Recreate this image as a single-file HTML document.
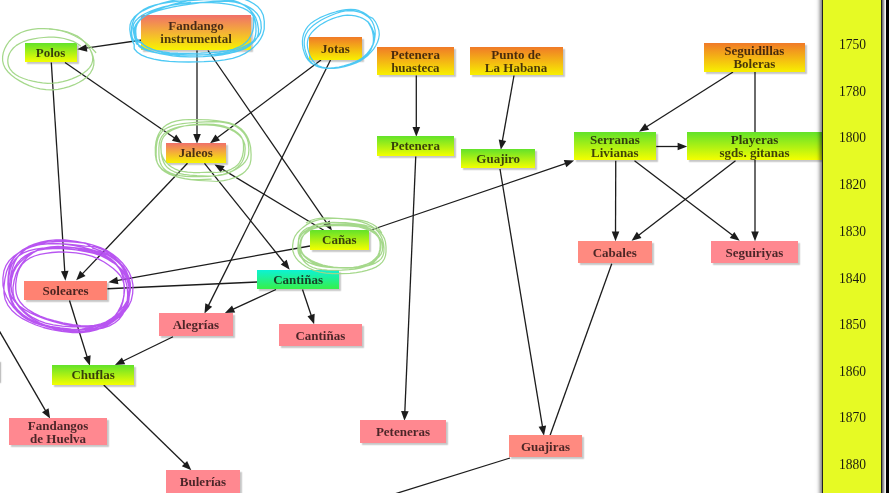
<!DOCTYPE html>
<html><head><meta charset="utf-8"><title>Flamenco genealogy</title>
<style>
html,body{margin:0;padding:0;background:#fff;}
body{width:889px;height:493px;overflow:hidden;position:relative;font-family:"Liberation Serif",serif;}
#stage{position:absolute;left:0;top:0;width:889px;height:493px;overflow:hidden;background:#fff;filter:blur(0.35px);}
svg{position:absolute;left:0;top:0;}
.n{position:absolute;box-sizing:border-box;display:flex;flex-direction:column;justify-content:center;align-items:center;
 font-weight:bold;font-size:13px;line-height:13.3px;color:rgba(18,6,8,0.76);text-align:center;white-space:nowrap;
 box-shadow:1.5px 2px 1.2px rgba(0,0,0,0.22);}
.n span{display:block;}
#bar{position:absolute;left:822px;top:-5px;width:58px;height:503px;background:#e6fa24;border-left:1.5px solid #222;border-right:1.5px solid #222;
 box-shadow:-2px 0 4px rgba(0,0,0,0.55), 1.5px 0 2px rgba(0,0,0,0.55);}
#blk{position:absolute;left:886px;top:0;width:4px;height:493px;background:#000;}
.y{position:absolute;left:823px;width:59px;text-align:center;font-size:13.5px;line-height:14px;color:#1a1a10;font-weight:normal;transform:scaleY(1.1);transform-origin:50% 55%;}
</style></head><body><div id="stage">
<svg width="889" height="493" viewBox="0 0 889 493"><g stroke="#1c1c1c" stroke-width="1.3" fill="#1c1c1c" stroke-linecap="butt"><line x1="142.00" y1="40.00" x2="85.82" y2="48.14"/><polygon stroke="none" points="77.31,49.37 86.27,44.23 87.36,51.76"/><line x1="51.30" y1="62.50" x2="64.82" y2="272.12"/><polygon stroke="none" points="65.38,280.70 60.97,271.36 68.55,270.87"/><line x1="65.00" y1="62.50" x2="174.91" y2="138.30"/><polygon stroke="none" points="181.99,143.18 171.93,140.86 176.24,134.60"/><line x1="197.00" y1="50.50" x2="197.00" y2="135.10"/><polygon stroke="none" points="197.00,143.70 193.20,134.10 200.80,134.10"/><line x1="321.00" y1="60.00" x2="216.92" y2="138.06"/><polygon stroke="none" points="210.04,143.22 215.44,134.42 220.00,140.50"/><line x1="208.00" y1="50.50" x2="327.00" y2="223.40"/><polygon stroke="none" points="331.88,230.49 323.31,224.73 329.57,220.43"/><line x1="330.50" y1="60.00" x2="208.29" y2="305.87"/><polygon stroke="none" points="204.47,313.57 205.34,303.29 212.14,306.67"/><line x1="323.75" y1="230.30" x2="221.84" y2="168.82"/><polygon stroke="none" points="214.47,164.38 224.66,166.09 220.73,172.59"/><line x1="204.50" y1="163.30" x2="284.37" y2="262.98"/><polygon stroke="none" points="289.75,269.69 280.78,264.57 286.71,259.82"/><line x1="187.50" y1="163.30" x2="82.10" y2="274.14"/><polygon stroke="none" points="76.17,280.37 80.03,270.79 85.54,276.03"/><line x1="310.00" y1="246.00" x2="116.78" y2="280.69"/><polygon stroke="none" points="108.32,282.21 117.10,276.78 118.44,284.26"/><line x1="257.50" y1="282.00" x2="107.50" y2="288.75"/><line x1="276.00" y1="289.50" x2="232.72" y2="309.41"/><polygon stroke="none" points="224.91,313.00 232.04,305.54 235.22,312.44"/><line x1="302.50" y1="289.50" x2="311.39" y2="315.98"/><polygon stroke="none" points="314.13,324.14 307.47,316.25 314.68,313.83"/><line x1="369.50" y1="230.50" x2="566.00" y2="163.39"/><polygon stroke="none" points="574.14,160.61 566.28,167.31 563.82,160.12"/><line x1="416.30" y1="75.50" x2="416.30" y2="128.10"/><polygon stroke="none" points="416.30,136.70 412.50,127.10 420.10,127.10"/><line x1="415.75" y1="156.50" x2="404.82" y2="412.11"/><polygon stroke="none" points="404.45,420.70 401.06,410.95 408.66,411.27"/><line x1="514.00" y1="75.50" x2="502.30" y2="141.21"/><polygon stroke="none" points="500.79,149.68 498.73,139.56 506.21,140.90"/><line x1="500.00" y1="169.00" x2="542.55" y2="427.20"/><polygon stroke="none" points="543.95,435.68 538.63,426.83 546.13,425.59"/><line x1="733.00" y1="72.00" x2="646.25" y2="127.04"/><polygon stroke="none" points="638.99,131.64 645.06,123.29 649.13,129.71"/><line x1="755.00" y1="72.00" x2="755.00" y2="232.60"/><polygon stroke="none" points="755.00,241.20 751.20,231.60 758.80,231.60"/><line x1="656.25" y1="146.50" x2="678.60" y2="146.50"/><polygon stroke="none" points="687.20,146.50 677.60,150.30 677.60,142.70"/><line x1="615.75" y1="160.75" x2="615.52" y2="232.60"/><polygon stroke="none" points="615.50,241.20 611.73,231.59 619.33,231.61"/><line x1="634.50" y1="160.75" x2="732.86" y2="235.52"/><polygon stroke="none" points="739.71,240.73 729.76,237.94 734.36,231.89"/><line x1="735.50" y1="160.75" x2="638.36" y2="235.49"/><polygon stroke="none" points="631.55,240.73 636.84,231.87 641.47,237.89"/><line x1="611.75" y1="263.75" x2="550.00" y2="435.50"/><line x1="510.00" y1="458.00" x2="380.00" y2="498.50"/><line x1="69.50" y1="300.50" x2="87.29" y2="357.44"/><polygon stroke="none" points="89.86,365.65 83.37,357.62 90.62,355.35"/><line x1="173.00" y1="336.75" x2="122.65" y2="361.26"/><polygon stroke="none" points="114.92,365.03 121.89,357.41 125.22,364.24"/><line x1="103.75" y1="385.00" x2="185.20" y2="464.34"/><polygon stroke="none" points="191.36,470.34 181.83,466.36 187.13,460.92"/><line x1="-5.00" y1="323.50" x2="45.79" y2="411.10"/><polygon stroke="none" points="50.10,418.54 42.00,412.14 48.57,408.33"/></g></svg>
<div style="position:absolute;left:-6px;top:361px;width:6px;height:21px;background:#fff;box-shadow:1px 1px 1.5px rgba(0,0,0,0.3)"></div>
<div class="n" style="left:24.60px;top:42.70px;width:52.00px;height:19.50px;background:linear-gradient(to bottom,#62e22a,#f4ff00)"><span>Polos</span></div>
<div class="n" style="left:141.30px;top:14.80px;width:109.50px;height:35.10px;background:linear-gradient(to bottom,#f0706a,#f8f400)"><span>Fandango</span><span>instrumental</span></div>
<div class="n" style="left:309.10px;top:36.70px;width:52.50px;height:23.00px;background:linear-gradient(to bottom,#f07a28,#f8f000)"><span>Jotas</span></div>
<div class="n" style="left:377.10px;top:46.70px;width:76.50px;height:28.50px;background:linear-gradient(to bottom,#f07a28,#f8f000)"><span>Petenera</span><span>huasteca</span></div>
<div class="n" style="left:469.60px;top:46.70px;width:93.00px;height:28.50px;background:linear-gradient(to bottom,#f07a28,#f8f000)"><span>Punto de</span><span>La Habana</span></div>
<div class="n" style="left:704.10px;top:42.70px;width:100.50px;height:29.00px;background:linear-gradient(to bottom,#f07a28,#f8f000)"><span>Seguidillas</span><span>Boleras</span></div>
<div class="n" style="left:166.10px;top:142.70px;width:59.50px;height:20.30px;background:linear-gradient(to bottom,#f0706a,#f8f400)"><span>Jaleos</span></div>
<div class="n" style="left:377.10px;top:135.70px;width:76.50px;height:20.00px;background:linear-gradient(to bottom,#62e22a,#f4ff00)"><span>Petenera</span></div>
<div class="n" style="left:461.35px;top:148.70px;width:73.75px;height:19.60px;background:linear-gradient(to bottom,#62e22a,#f4ff00)"><span>Guajiro</span></div>
<div class="n" style="left:573.85px;top:131.70px;width:82.00px;height:28.75px;background:linear-gradient(to bottom,#62e22a,#f4ff00)"><span>Serranas</span><span>Livianas</span></div>
<div class="n" style="left:686.60px;top:131.70px;width:136.00px;height:28.75px;background:linear-gradient(to bottom,#62e22a,#f4ff00)"><span>Playeras</span><span>sgds. gitanas</span></div>
<div class="n" style="left:309.60px;top:230.00px;width:59.50px;height:19.70px;background:linear-gradient(to bottom,#62e22a,#f4ff00)"><span>Cañas</span></div>
<div class="n" style="left:257.10px;top:269.70px;width:82.00px;height:19.50px;background:linear-gradient(to bottom,#0cf2d4,#36f04a)"><span>Cantiñas</span></div>
<div class="n" style="left:24.10px;top:280.70px;width:83.00px;height:19.50px;background:#ff8272"><span>Soleares</span></div>
<div class="n" style="left:577.85px;top:240.95px;width:73.75px;height:22.50px;background:#ff8a80"><span>Cabales</span></div>
<div class="n" style="left:710.85px;top:240.95px;width:87.00px;height:22.50px;background:#ff8890"><span>Seguiriyas</span></div>
<div class="n" style="left:159.10px;top:313.45px;width:73.50px;height:23.00px;background:#ff8890"><span>Alegrías</span></div>
<div class="n" style="left:279.10px;top:323.95px;width:82.50px;height:22.50px;background:#ff8890"><span>Cantiñas</span></div>
<div class="n" style="left:52.10px;top:365.20px;width:82.00px;height:19.50px;background:linear-gradient(to bottom,#62e22a,#f4ff00)"><span>Chuflas</span></div>
<div class="n" style="left:9.10px;top:418.45px;width:98.00px;height:26.75px;background:#ff8890"><span>Fandangos</span><span>de Huelva</span></div>
<div class="n" style="left:166.35px;top:470.45px;width:73.25px;height:23.25px;background:#ff8890"><span>Bulerías</span></div>
<div class="n" style="left:360.10px;top:420.10px;width:85.75px;height:23.00px;background:#ff8890"><span>Peteneras</span></div>
<div class="n" style="left:508.85px;top:434.90px;width:73.25px;height:22.60px;background:#ff8a80"><span>Guajiras</span></div>
<div id="bar"></div><div id="blk"></div>
<div class="y" style="top:37.8px">1750</div><div class="y" style="top:84.8px">1780</div><div class="y" style="top:131.3px">1800</div><div class="y" style="top:178.3px">1820</div><div class="y" style="top:224.8px">1830</div><div class="y" style="top:271.8px">1840</div><div class="y" style="top:318.3px">1850</div><div class="y" style="top:364.8px">1860</div><div class="y" style="top:411.3px">1870</div><div class="y" style="top:457.8px">1880</div>
<svg width="889" height="493" viewBox="0 0 889 493" fill="none" stroke-linecap="round" stroke-linejoin="round"><path d="M134.0,41.2 L132.2,37.4 L131.5,32.6 L131.7,26.4 L132.8,22.2 L134.4,18.6 L136.8,15.2 L139.9,12.2 L144.0,9.4 L149.1,6.9 L155.4,4.9 L162.6,3.3 L170.6,2.1 L179.5,1.2 L190.1,0.5 L203.8,-0.4 L213.1,-0.6 L221.1,-0.4 L228.3,0.3 L234.5,1.5 L239.9,3.2 L244.4,5.4 L248.0,8.0 L251.1,10.9 L253.6,14.2 L255.8,17.9 L257.4,22.6 L258.5,29.1 L258.4,33.6 L257.1,37.6 L254.7,41.1 L251.1,44.3 L246.6,47.0 L241.5,49.4 L235.7,51.5 L229.3,53.3 L222.0,54.8 L213.6,55.9 L203.2,56.6 L189.4,56.9 L180.2,56.5 L172.5,55.8 L165.8,54.7 L159.8,53.5 L154.3,52.1 L149.3,50.4 L144.8,48.5 L141.0,46.3 L136.7,43.9 L135.3,40.5 L134.7,36.3 L134.7,30.8 L135.4,27.0 L136.9,23.7 L139.1,20.6 L142.4,17.6 L146.6,15.0 L151.9,12.6 L158.0,10.6 L164.8,8.8 L172.2,7.2 L180.4,5.7 L190.3,4.2 L203.7,2.4 L213.0,1.5 L221.2,1.1 L228.5,1.3 L235.0,2.2 L240.6,3.5 L245.5,5.3 L249.8,7.6 L253.5,10.1 L256.7,13.2 L259.2,16.9 L260.8,21.6 L261.3,28.1 L260.4,32.6 L258.3,36.4 L255.1,39.8 L251.2,42.7 L246.7,45.4 L241.8,47.7 L236.2,49.8 L229.9,51.6 L222.6,53.1 L214.1,54.1 L203.8,54.8 L190.1,55.2 L180.9,55.1 L173.1,54.7 L165.9,54.1 L159.2,53.3 L153.0,52.2 L147.4,50.7 L142.7,48.9 L139.1,46.5 L137.9,43.4 L136.7,40.1 L136.0,36.2 L135.7,30.9 L136.1,27.2 L137.3,23.8 L139.5,20.6 L142.7,17.6 L146.9,14.8 L151.9,12.2 L157.6,9.7 L163.9,7.3 L171.1,4.9 L179.3,2.6 L189.8,0.3 L204.3,-2.1 L214.4,-3.4 L223.2,-3.8 L231.0,-3.5 L237.8,-2.5 L243.8,-1.0 L249.1,1.1 L253.8,3.7 L257.9,6.8 L261.1,10.7 L263.3,15.3 L264.3,21.3 L264.2,29.2 L262.7,34.6 L260.4,39.2 L257.4,43.3 L253.9,46.9 L249.8,50.3 L245.1,53.4 L239.4,56.1 L232.6,58.3 L224.6,59.9 L215.3,61.1 L203.9,61.7 L188.8,62.0 L178.5,61.8 L169.5,61.3 L161.3,60.5 L153.8,59.2 L147.2,57.4 L141.6,55.1 L137.3,52.2 L134.2,48.8 L134.2,44.6 L132.2,40.7 L130.7,35.9 L129.8,29.4 L130.1,24.8 L131.5,20.8 L134.3,17.1 L138.1,13.8 L142.8,10.8 L148.3,8.1 L154.4,5.6 L161.2,3.4 L168.8,1.3 L177.7,-0.4 L188.7,-1.8 L203.2,-3.0 L212.8,-3.0 L220.6,-2.3 L227.3,-1.1 L233.1,0.4 L238.2,2.2 L242.7,4.3 L246.6,6.8 L249.8,9.6 L252.1,12.9 L253.4,16.8 L253.8,21.5 L253.5,27.7 L252.5,31.8 L251.0,35.4 L249.0,38.8 L246.5,41.8 L243.1,44.7 L238.7,47.2 L233.2,49.3 L226.7,50.8 L219.2,52.0 L210.7,52.7 L200.5,53.1 L187.0,53.3 L177.9,53.2 L169.9,52.8 L162.9,51.9 L156.6,50.7 L151.4,49.1 L147.1,47.1 L143.7,44.8 L141.1,42.3 L137.7,39.9 L135.3,36.9 L133.6,33.1 L133.0,27.8 L133.6,24.2 L135.5,21.0 L138.4,18.1 L142.1,15.4 L146.5,13.0 L151.4,10.8 L157.0,8.8 L163.4,6.9 L170.7,5.3 L179.1,4.1 L189.3,3.2 L202.7,2.5 L211.6,2.5 L219.1,3.0 L225.8,3.8 L232.1,4.9 L237.8,6.3 L243.0,8.1 L247.5,10.4 L251.0,13.2 L253.6,16.6 L255.1,20.5 L255.9,25.2 L256.0,31.5 L255.4,35.8 L254.2,39.6 L252.1,43.0 L249.1,46.0 L244.9,48.6 L239.7,50.7 L233.6,52.3 L226.7,53.4 L219.2,54.2 L210.9,54.6 L201.0,54.8 L187.8,54.8 L178.8,54.5 L171.0,53.9 L164.1,52.8 L158.1,51.4 L153.0,49.7 L148.6,47.7 L144.8,45.6 L141.5,43.2 L136.7,41.0 L134.7,37.8 L133.9,33.8 L134.2,28.5 L135.7,24.9 L138.0,21.8 L141.0,18.9 L144.5,16.3 L148.4,13.8 L153.0,11.4 L158.3,9.1 L164.6,7.0 L171.8,5.2 L180.2,3.7 L190.4,2.3" stroke="#45c6f3" stroke-width="1.3" opacity="0.95"/><path d="M367.7,21.4 L369.9,24.2 L371.9,27.8 L373.6,31.9 L374.5,35.6 L374.6,39.1 L373.9,42.6 L372.6,46.0 L370.7,49.2 L368.4,52.3 L365.7,55.2 L362.5,58.0 L358.9,60.6 L354.6,63.0 L349.3,65.2 L343.4,67.0 L338.5,68.0 L334.0,68.4 L329.7,68.4 L325.7,68.1 L321.8,67.5 L318.1,66.5 L314.5,65.1 L311.3,63.2 L308.5,60.6 L306.3,57.4 L304.5,53.4 L303.1,48.8 L302.5,44.9 L302.4,41.1 L302.8,37.3 L303.8,33.5 L305.5,29.9 L307.9,26.4 L311.1,23.2 L315.0,20.4 L319.5,17.9 L324.4,15.7 L330.0,13.6 L336.2,11.7 L341.3,10.4 L346.2,9.6 L350.8,9.4 L355.2,9.7 L359.2,10.7 L362.9,12.2 L366.1,14.2 L369.0,16.5 L372.8,18.4 L375.3,21.6 L377.4,25.7 L378.9,30.5 L379.3,34.6 L378.7,38.5 L377.5,42.2 L375.7,45.7 L373.6,49.1 L371.0,52.2 L368.1,55.2 L364.6,58.1 L360.7,60.6 L356.1,62.9 L350.6,64.9 L344.6,66.7 L339.7,67.7 L335.1,68.2 L330.7,68.5 L326.4,68.4 L322.3,68.0 L318.5,67.0 L315.0,65.4 L312.1,63.2 L309.6,60.5 L307.7,57.2 L306.1,53.3 L304.9,48.9 L304.3,45.1 L304.2,41.5 L304.7,38.0 L305.9,34.5 L307.8,31.2 L310.4,28.1 L313.5,25.2 L317.0,22.7 L320.9,20.3 L325.2,18.0 L330.2,15.7 L335.8,13.5 L340.6,11.9 L345.2,11.0 L349.6,10.6 L353.8,10.8 L357.6,11.6 L361.2,12.8 L364.5,14.4 L367.5,16.4 L370.2,18.8 L372.4,21.9 L374.0,25.8 L375.1,30.3 L375.2,34.1 L374.8,37.8 L373.9,41.3 L372.7,44.7 L371.1,48.0 L369.0,51.2 L366.4,54.3 L363.2,57.2 L359.3,59.7 L354.9,62.0 L349.6,64.0 L343.8,65.9 L338.9,67.0 L334.3,67.7 L330.0,68.0 L325.8,67.8 L321.9,67.1 L318.5,65.7 L315.6,63.8 L313.3,61.4 L311.4,58.7 L309.9,55.7 L308.7,52.1 L307.7,48.2 L307.3,44.9 L307.5,41.6 L308.2,38.5 L309.6,35.5 L311.6,32.6 L314.1,30.0 L316.9,27.5 L320.1,25.1 L323.6,22.9 L327.6,20.7 L332.5,18.6 L338.1,16.8 L342.8,15.6 L347.3,15.2 L351.5,15.3 L355.3,15.8 L358.8,16.8 L362.1,18.1 L365.0,19.8 L367.7,21.7 L369.4,24.5 L371.0,27.4 L372.3,30.8 L373.1,34.7 L373.4,37.9 L373.4,41.0 L373.0,44.0 L372.1,47.0 L370.8,49.9 L368.8,52.8 L366.2,55.5 L363.0,58.0 L359.2,60.2 L354.9,62.3 L349.9,64.3" stroke="#45c6f3" stroke-width="1.2" opacity="0.95"/><path d="M76.9,36.0 L81.1,38.8 L84.6,42.0 L87.5,45.4 L89.9,49.0 L91.8,52.8 L93.1,56.7 L93.9,60.8 L93.8,64.9 L92.7,68.9 L90.5,72.8 L87.5,76.4 L83.6,79.6 L79.2,82.3 L74.3,84.7 L69.2,86.6 L63.7,88.2 L58.0,89.3 L52.0,89.8 L46.0,89.7 L40.1,88.9 L34.4,87.5 L29.2,85.6 L24.2,83.4 L19.7,80.9 L15.4,78.2 L11.5,75.3 L8.1,72.0 L5.3,68.4 L3.5,64.5 L2.6,60.6 L2.6,56.6 L3.3,52.6 L4.7,48.8 L6.6,45.1 L9.1,41.5 L12.4,38.1 L16.4,35.1 L21.1,32.5 L26.4,30.6 L32.1,29.4 L38.1,28.7 L44.0,28.6 L49.9,28.9 L55.8,29.5 L61.5,30.5 L67.0,31.9 L72.2,33.9 L77.3,36.1 L81.4,39.1 L85.0,42.4 L87.9,46.0 L90.2,49.6 L91.8,53.4 L92.7,57.2 L92.6,60.9 L91.6,64.4 L89.6,67.6 L86.8,70.5 L83.5,73.0 L79.8,75.2 L75.9,77.1 L71.8,78.8 L67.5,80.4 L62.8,81.7 L57.9,82.7 L52.8,83.2 L47.6,83.3 L42.5,82.9 L37.5,82.2 L32.7,81.2 L28.0,80.0 L23.5,78.5 L19.3,76.7 L15.5,74.5 L12.4,71.9 L10.1,69.1 L8.6,66.1 L7.9,63.0 L7.8,59.9 L8.3,56.8 L9.4,53.7 L11.1,50.8 L13.4,48.0 L16.4,45.4 L20.1,43.2 L24.3,41.3 L28.9,39.9 L33.8,38.8 L38.7,38.0 L43.7,37.5 L48.7,37.2 L53.9,37.2 L59.0,37.6 L64.0,38.5 L68.7,39.8 L73.3,41.4 L77.1,43.5 L80.4,45.8" stroke="#a0d685" stroke-width="1.25" opacity="0.95"/><path d="M211.2,179.1 L199.6,179.6 L191.5,179.5 L185.1,178.7 L179.7,177.5 L175.0,176.1 L170.7,174.4 L166.8,172.4 L163.2,170.1 L160.2,167.3 L157.8,163.9 L156.2,159.9 L155.4,155.1 L155.3,147.5 L155.9,142.2 L157.0,137.9 L158.6,134.0 L160.7,130.5 L163.5,127.3 L167.1,124.6 L171.5,122.4 L176.7,120.9 L182.7,119.9 L189.2,119.5 L196.8,119.5 L208.4,119.9 L216.4,120.6 L222.9,121.5 L228.6,122.7 L233.6,124.4 L237.8,126.5 L241.3,129.0 L244.0,131.9 L246.3,135.1 L248.1,138.5 L249.5,142.4 L250.6,147.1 L251.1,154.6 L250.9,160.0 L250.0,164.3 L248.1,168.0 L245.4,171.2 L242.1,173.9 L238.2,176.1 L233.8,177.9 L229.0,179.5 L223.6,180.7 L217.4,181.5 L209.8,181.0 L198.4,180.5 L190.5,179.7 L184.3,178.7 L178.8,177.4 L173.9,175.9 L169.3,174.1 L165.3,172.0 L161.8,169.4 L159.2,166.4 L157.3,162.9 L156.4,158.9 L156.1,154.2 L156.3,147.0 L157.0,142.1 L158.1,138.2 L159.7,134.8 L161.9,131.9 L164.8,129.3 L168.4,127.3 L172.7,125.7 L177.5,124.5 L182.7,123.7 L188.4,123.0 L195.1,122.4 L205.7,121.9 L213.2,121.7 L219.4,121.9 L224.8,122.6 L229.5,123.7 L233.7,125.3 L237.2,127.3 L240.3,129.6 L243.0,132.2 L245.2,135.2 L247.1,138.6 L248.3,142.9 L248.9,149.8 L248.5,154.6 L247.2,158.5 L245.2,161.8 L242.6,164.6 L239.5,167.0 L236.1,169.2 L232.3,171.2 L228.1,172.9 L223.1,174.4 L217.4,175.4 L210.6,176.3 L199.7,176.7 L192.0,176.7 L185.7,176.4 L180.1,175.7 L175.0,174.7 L170.5,173.1 L166.7,171.1 L163.7,168.5 L161.5,165.5 L160.1,162.2 L159.2,158.4 L158.9,154.2 L158.9,147.7 L159.3,143.2 L160.3,139.5 L161.9,136.3 L164.2,133.6 L167.2,131.4 L170.7,129.5 L174.7,128.1 L179.1,126.9 L184.0,126.0 L189.4,125.3 L196.1,124.9 L206.6,125.0 L214.2,125.4 L220.3,126.3 L225.4,127.6 L229.8,129.2 L233.5,131.1 L236.7,133.2 L239.5,135.6 L241.8,138.2 L243.6,141.1 L244.8,144.5 L245.2,148.4 L244.7,154.6 L243.6,158.8 L242.0,162.0 L240.0,164.7 L237.7,167.2 L235.1,169.3 L232.1,171.3 L228.7,173.1 L224.6,174.4 L219.7,175.4 L214.1,175.9 L207.5,176.2 L197.0,175.7 L189.7,175.1 L183.8,174.3 L178.7,173.3 L174.3,171.8 L170.7,170.0 L167.7,167.8 L165.5,165.3 L163.9,162.7 L162.7,159.8 L161.8,156.7 L161.2,153.0 L161.0,147.2 L161.2,143.0 L162.1,139.7 L163.6,136.8 L165.9,134.3 L168.7,132.1 L171.9,130.3 L175.6,128.7 L179.7,127.2 L184.3,126.0 L189.6,125.0 L196.2,124.4 L206.4,124.2 L213.6,124.4 L219.2,125.1 L223.9,126.2 L227.9,127.5 L231.5,129.0 L234.7,130.7 L237.5,132.7 L239.9,134.9 L241.8,137.6 L242.9,140.6 L243.5,144.3 L243.5,150.0 L242.9,154.0 L242.1,157.3 L240.9,160.1 L239.3,162.8 L237.2,165.3 L234.5,167.4 L231.1,169.3 L227.0,170.8 L222.1,171.8 L216.6,172.5 L209.9,172.2 L200.2,172.5 L193.2,172.5 L187.6,172.2 L182.7,171.4 L178.4,170.3 L174.7,168.8 L171.5,167.0 L168.8,164.9 L166.4,162.6 L164.3,160.0 L162.6,156.9 L161.3,153.2 L160.8,147.1 L161.0,142.7" stroke="#a0d685" stroke-width="1.25" opacity="0.95"/><path d="M306.4,222.7 L310.5,220.5 L315.5,219.0 L321.0,218.2 L327.1,217.9 L333.7,218.1 L341.5,218.7 L350.3,219.6 L356.6,220.7 L362.2,222.1 L367.1,223.9 L371.3,226.0 L374.9,228.5 L377.6,231.2 L379.8,234.1 L381.5,237.2 L382.7,240.3 L383.6,243.8 L384.0,247.9 L383.8,252.5 L382.9,255.8 L381.3,258.6 L378.8,260.9 L375.8,262.8 L372.2,264.3 L368.3,265.6 L364.0,266.6 L359.4,267.3 L354.3,267.8 L348.5,268.0 L341.5,267.8 L333.5,267.1 L327.8,266.2 L323.0,265.0 L318.7,263.6 L314.9,262.1 L311.4,260.5 L308.2,258.6 L305.4,256.6 L303.1,254.2 L301.6,251.6 L300.7,248.6 L300.6,245.0 L301.2,240.9 L302.1,237.9 L303.5,235.3 L305.2,232.9 L307.5,230.7 L311.0,229.1 L314.9,227.8 L319.2,226.9 L323.9,226.2 L328.9,225.9 L334.3,225.7 L341.0,225.7 L348.7,225.9 L354.5,226.3 L359.6,227.0 L364.2,228.1 L368.2,229.5 L371.7,231.1 L374.6,233.0 L377.1,235.1 L379.3,237.4 L381.0,239.9 L382.2,242.9 L382.7,246.6 L382.3,250.8 L381.2,253.9 L379.3,256.5 L376.8,258.7 L373.8,260.7 L370.5,262.5 L366.9,264.0 L362.9,265.4 L358.4,266.5 L353.4,267.3 L347.7,267.7 L340.6,267.7 L332.7,267.4 L326.9,266.8 L321.9,266.0 L317.2,265.1 L312.8,263.9 L308.8,262.5 L305.2,260.7 L302.2,258.6 L300.0,256.1 L298.6,253.3 L297.9,250.1 L297.9,246.3 L298.3,242.0 L299.1,238.9 L300.5,236.1 L302.4,233.6 L304.9,231.3 L308.9,229.9 L312.6,228.3 L316.8,227.1 L321.2,226.0 L326.2,225.2 L331.8,224.5 L338.8,224.2 L347.0,224.3 L353.1,224.7 L358.5,225.6 L363.2,226.9 L367.2,228.6 L370.7,230.5 L373.8,232.6 L376.4,234.8 L378.5,237.4 L380.1,240.2 L380.9,243.3 L380.9,247.1 L380.1,251.3 L378.7,254.3 L376.9,256.8 L374.7,259.1 L372.2,261.2 L369.4,263.0 L366.1,264.7 L362.3,266.1 L357.9,267.2 L352.9,267.8 L347.2,268.1 L340.2,268.0 L332.3,267.6 L326.5,267.1 L321.2,266.3 L316.4,265.3 L312.1,264.0 L308.3,262.4 L305.2,260.4 L302.8,258.1 L301.2,255.6 L300.3,252.8 L299.8,249.8 L299.8,246.3 L300.2,242.3 L300.9,239.3 L302.2,236.7 L304.2,234.4 L306.8,232.4 L309.5,230.5 L313.1,229.0 L317.0,227.7 L321.4,226.6 L326.3,225.7 L332.0,225.1 L339.1,225.0 L347.2,225.2 L353.0,225.8 L358.0,226.7 L362.3,227.8 L366.1,229.1 L369.6,230.5 L372.7,232.2 L375.4,234.0 L377.6,236.2 L379.1,238.7 L380.0,241.6 L380.2,245.2 L379.9,249.4 L379.1,252.5 L378.0,255.3 L376.6,257.9 L374.6,260.4 L372.1,262.8 L368.8,264.9 L364.8,266.7 L360.1,268.1 L354.8,269.1 L348.9,269.7 L341.6,270.1 L333.5,270.3 L327.4,270.2 L322.0,269.7 L317.1,268.8 L312.9,267.5 L309.2,265.7 L306.3,263.6 L304.0,261.2 L302.1,258.6 L300.6,255.8 L299.5,252.7 L298.6,248.7 L298.2,244.2 L298.5,240.7 L299.6,237.6 L301.4,234.8 L303.9,232.3 L306.9,230.0 L310.4,228.0 L314.5,226.2 L319.1,224.7 L324.3,223.6 L330.2,222.9 L337.5,222.6 L345.6,222.7 L351.5,223.3 L356.6,224.2 L361.2,225.3 L365.5,226.7 L369.4,228.3 L372.9,230.2 L375.9,232.6 L378.1,235.3 L379.6,238.4 L380.4,241.8 L380.5,245.9 L380.2,250.6 L379.4,254.0 L378.1,257.1 L376.2,259.8 L373.7,262.3 L370.4,264.3 L366.5,265.8 L362.0,266.9 L357.1,267.5 L351.9,267.8 L346.2,267.9 L339.4,267.6 L331.6,267.1 L325.9,266.4 L320.8,265.4 L316.4,264.1 L312.5,262.4 L309.2,260.5 L306.4,258.3 L304.0,256.0 L302.0,253.4 L300.2,250.7 L299.0,247.5 L298.4,243.6 L298.6,239.0 L299.5,235.7 L301.3,232.9 L303.6,230.5 L306.5,228.4 L310.5,227.1 L313.9,225.5 L317.8,224.2 L322.3,223.2 L327.3,222.6 L333.0,222.4 L339.9,222.6 L347.9,223.1 L353.8,223.6 L359.2,224.3 L364.3,225.2 L369.2,226.5 L373.6,228.1 L377.4,230.1 L380.5,232.6 L382.8,235.5 L384.5,238.6 L385.5,242.2 L386.0,246.7 L386.0,251.8 L385.5,255.6 L384.3,259.0 L382.3,262.1 L379.5,264.8 L375.9,267.1 L371.7,268.9 L367.0,270.4 L361.9,271.6 L356.3,272.6 L350.0,273.3 L342.1,273.6 L332.9,273.6 L326.0,273.1 L320.0,272.1 L314.6,270.6 L309.9,268.7 L305.7,266.5 L302.1,264.0 L298.8,261.3 L296.1,258.2 L294.1,254.7 L292.8,250.8 L292.6,245.8 L293.4,240.3 L294.9,236.4 L297.2,233.0 L299.9,230.1 L303.0,227.4 L306.2,224.9 L310.1,222.6 L314.7,220.8 L320.0,219.5 L326.0,218.8 L332.6,218.4 L340.7,218.5 L349.9,219.0 L356.6,219.7 L362.6,220.7 L368.0,222.2 L372.6,224.2 L376.4,226.7 L379.4,229.5 L381.5,232.7" stroke="#a0d685" stroke-width="1.25" opacity="0.95"/><path d="M92.6,248.1 L100.2,250.5 L107.0,253.6 L112.8,257.2 L117.6,261.4 L121.4,265.9 L124.4,270.8 L126.6,275.8 L128.2,281.2 L129.2,287.1 L129.4,294.5 L128.7,301.4 L127.0,307.1 L124.1,312.1 L120.1,316.4 L115.2,320.0 L109.7,323.0 L103.7,325.4 L97.3,327.5 L90.3,329.0 L82.7,330.0 L74.3,330.3 L63.7,329.7 L54.2,328.4 L46.6,326.5 L39.9,324.2 L34.0,321.5 L28.6,318.5 L23.7,315.3 L19.2,311.7 L15.3,307.6 L12.2,302.9 L10.2,297.8 L9.3,292.0 L9.5,284.9 L10.5,278.3 L12.1,272.9 L14.4,267.9 L17.3,263.3 L21.0,259.1 L25.6,255.5 L31.2,252.5 L37.7,250.4 L44.9,249.1 L52.7,248.5 L61.0,248.6 L71.4,249.3 L80.7,250.3 L88.7,251.4 L96.1,253.1 L102.7,255.4 L108.5,258.5 L113.6,262.0 L117.9,266.1 L121.7,270.5 L124.9,275.3 L127.3,280.7 L128.9,286.7 L129.3,294.5 L128.4,301.6 L126.3,307.5 L123.0,312.7 L118.9,317.1 L114.1,321.0 L108.8,324.4 L103.0,327.3 L96.5,329.8 L89.4,331.5 L81.5,332.5 L72.7,332.5 L61.7,331.4 L51.7,329.7 L43.4,327.5 L35.9,325.0 L29.0,322.0 L22.5,318.7 L16.7,314.8 L11.7,310.2 L7.8,305.1 L5.2,299.5 L4.0,293.4 L3.9,286.9 L4.9,278.8 L6.6,271.6 L8.9,265.7 L11.8,260.3 L15.7,255.6 L20.5,251.6 L26.2,248.4 L32.8,246.1 L39.9,244.7 L47.5,243.9 L55.6,243.7 L64.2,244.0 L75.0,244.9 L85.1,246.2 L94.5,246.6 L102.2,249.5 L108.9,253.1 L114.5,257.3 L119.3,261.9 L123.4,266.8 L126.6,272.0 L129.0,277.5 L130.4,283.3 L130.4,289.6 L129.1,297.1 L126.7,303.6 L123.5,308.6 L119.8,312.7 L115.7,316.3 L111.2,319.3 L106.3,321.8 L100.9,323.9 L94.8,325.3 L88.0,325.9 L80.7,325.7 L72.7,324.7 L62.9,322.9 L54.0,320.7 L46.7,318.5 L40.0,316.0 L33.9,313.1 L28.5,309.9 L23.9,306.3 L20.3,302.3 L17.8,298.1 L16.3,293.6 L15.7,289.0 L15.7,284.1 L16.5,278.1 L17.8,272.8 L19.6,268.3 L22.1,264.4 L25.5,261.0 L29.6,258.2 L34.5,256.0 L39.9,254.4 L45.8,253.3 L52.0,252.5 L58.8,252.0 L66.3,252.1 L76.0,252.9 L85.0,254.3 L92.4,256.4 L98.6,259.1 L104.1,262.0 L108.9,265.2 L113.3,268.5 L117.1,272.0 L120.4,275.8 L122.8,280.1 L124.2,284.7 L124.6,289.8 L123.9,296.1 L122.4,301.9 L120.5,306.8 L118.1,311.3 L115.2,315.6 L111.5,319.7 L107.0,323.3 L101.5,326.2 L95.0,328.4 L87.8,329.8 L79.8,330.2 L71.1,329.9 L60.3,328.7 L50.4,327.2 L42.1,325.3 L34.5,322.8 L27.8,319.7 L22.0,315.9 L17.3,311.5 L13.8,306.6 L11.3,301.3 L9.6,295.9 L8.4,290.1 L7.9,284.0 L8.2,276.3 L9.2,269.2 L11.0,263.2 L13.9,258.0 L17.9,253.5 L22.7,249.8 L28.2,246.7 L34.3,244.1 L40.9,242.1 L48.1,240.6 L56.0,239.8 L64.8,240.0 L76.0,241.3 L86.0,243.5 L93.1,247.9 L100.0,250.9 L106.3,254.1 L112.1,257.7 L117.4,261.7 L121.9,266.1 L125.5,271.1 L128.0,276.5 L129.4,282.4 L129.6,288.6 L128.8,296.4 L127.4,303.3 L125.4,309.1 L122.8,314.3 L119.4,318.9 L114.9,322.8 L109.4,325.9 L102.9,328.1 L95.8,329.4 L88.1,329.9 L80.0,329.8 L71.3,329.2 L60.4,328.0 L50.4,326.4 L41.9,324.5 L34.4,322.0 L27.7,318.8 L21.9,315.2 L17.0,311.1 L13.0,306.7 L9.5,302.0 L6.7,297.0 L4.4,291.6 L3.0,285.6 L2.9,278.0 L3.9,271.0 L6.1,265.3 L9.4,260.4 L13.8,256.2 L18.8,252.7 L24.4,249.6 L30.6,247.1 L37.4,245.2 L44.8,243.8 L53.0,243.3 L62.0,243.8 L73.2,245.3 L83.1,247.4 L91.4,249.6 L99.1,251.8 L106.3,254.5 L112.8,257.7 L118.5,261.5 L123.0,265.9 L126.3,270.9 L128.4,276.3 L129.3,281.9 L129.3,287.9 L128.4,295.3 L126.8,301.9 L124.6,307.4 L121.5,312.2 L117.5,316.3 L112.6,319.7 L106.9,322.3 L100.6,324.1 L94.1,325.4 L87.2,326.3 L80.0,326.7 L72.2,326.8 L62.3,326.1 L53.2,324.9 L45.5,323.1 L38.8,320.7 L32.9,317.7 L27.8,314.3 L23.3,310.4 L19.5,306.3 L16.1,301.9 L13.4,297.0 L11.7,291.7 L11.0,285.9 L11.7,278.7 L13.5,272.3 L16.2,267.1 L19.6,262.8 L23.4,259.0 L27.7,255.6 L32.4,252.7 L37.7,250.2 L43.5,248.3 L50.1,247.1 L57.2,246.7 L65.1,247.0 L74.8,248.2 L83.6,249.8 L91.7,250.4 L98.8,252.5 L105.1,255.3 L110.7,258.7 L115.2,262.7 L118.7,267.1 L121.1,272.0 L122.8,277.0 L123.8,282.3 L124.2,287.9 L123.9,294.9 L123.0,301.3 L121.3,306.7 L118.7,311.4 L115.2,315.5 L110.9,318.9 L106.1,321.8 L100.7,324.3 L94.9,326.3 L88.6,328.0 L81.6,329.1 L73.7,329.5 L63.5,328.9 L54.1,327.5 L46.4,325.5 L39.6,322.8 L33.7,319.7 L28.5,316.2 L23.9,312.3 L19.9,308.1 L16.6,303.5 L14.3,298.5 L13.1,293.1 L13.0,287.3 L14.2,280.2 L16.1,273.9 L18.5,268.8 L21.3,264.3 L24.5,260.2 L28.2,256.4 L32.7,253.0 L37.9,250.2 L43.9,248.2 L50.7,247.0 L58.1,246.5 L66.1,246.8 L76.2,247.8 L85.5,249.2 L93.2,251.0 L100.1,253.5 L106.1,256.5 L111.2,260.0 L115.4,263.9 L118.9,268.2 L121.7,272.6 L124.1,277.2 L126.0,282.2 L127.3,287.7 L127.7,294.9 L127.2,301.5 L125.6,307.0 L123.1,311.8 L119.6,316.0 L115.5,319.8 L110.7,323.1 L105.4,326.0 L99.4,328.4 L92.6,330.3 L84.9,331.4 L76.3,331.6 L65.3,330.7 L55.5,329.1 L47.5,326.9 L40.3,324.3 L33.9,321.4 L28.0,318.1 L22.7,314.5 L18.1,310.3 L14.3,305.6 L11.7,300.4 L10.2,294.7 L9.6,288.5 L10.0,280.8 L11.0,273.7 L12.5,267.8 L14.6,262.3 L17.5,257.2 L21.4,252.7 L26.4,248.8 L32.5,245.7 L39.4,243.5 L46.9,242.2 L55.0,241.5 L63.8,241.4 L74.8,242.0 L84.9,243.0 L93.0,245.2 L100.4,247.6 L107.0,250.6 L112.7,254.2 L117.7,258.3 L122.2,262.7 L126.1,267.6 L129.4,272.9 L131.7,278.7 L133.0,285.2 L132.7,293.3 L131.2,300.5 L128.5,306.3 L124.9,311.2 L120.5,315.5 L115.6,319.1 L110.1,322.1 L104.0,324.5 L97.2,326.2 L89.7,327.0 L81.6,326.9 L72.8,325.8 L62.1,323.8 L52.6,321.4 L44.8,318.9 L37.6,316.2 L31.0,313.2 L25.0,309.9 L19.7,306.2 L15.3,302.0 L12.0,297.5 L9.8,292.7 L8.6,287.6 L8.4,282.2 L9.0,275.5 L10.2,269.4 L12.0,264.3 L14.8,259.8 L18.6,255.9 L23.4,252.9 L29.2,250.6 L35.6,249.1 L42.5,248.2 L49.7,247.9 L57.4,248.0 L65.7,248.5 L76.1,249.9 L85.7,251.7 L94.1,253.3 L101.3,256.0 L107.6,259.2 L113.1,262.6 L118.1,266.3 L122.4,270.3 L126.0,274.6 L128.6,279.2 L130.0,284.0 L130.2,289.3 L129.0,295.6 L127.0,301.0 L124.4,305.3 L121.3,309.0 L117.8,312.2" stroke="#b44cf0" stroke-width="1.3" opacity="0.95"/><path d="M49.5,29 C66,30 84,38 95.8,52.5" stroke="#a6d98c" stroke-width="1.2"/></svg>
</div></body></html>
